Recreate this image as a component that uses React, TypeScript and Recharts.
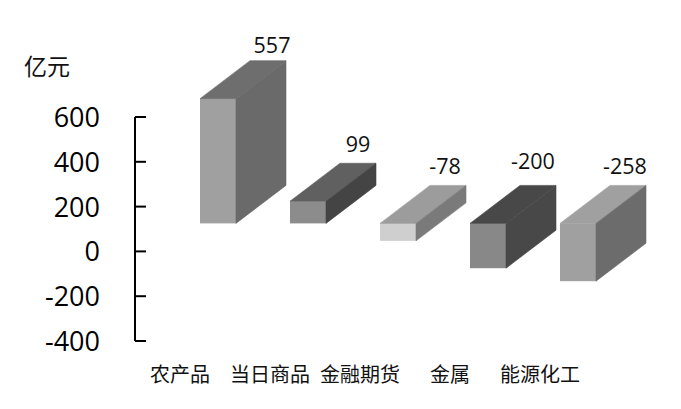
import { BarChart, Bar, XAxis, YAxis } from 'recharts';

const categories = ['农产品', '当日商品', '金融期货', '金属', '能源化工'];
const values = [557, 99, -78, -200, -258];
const yTicks = [-400, -200, 0, 200, 400, 600];

// greys for each box
const frontColors = ['#a0a0a0', '#8c8c8c', '#cfcfcf', '#888888', '#a0a0a0'];
const sideColors = ['#6a6a6a', '#444444', '#7a7a7a', '#484848', '#6c6c6c'];
const topColors = ['#6e6e6e', '#606060', '#9c9c9c', '#484848', '#a0a0a0'];

const data = categories.map((name, i) => ({ name, value: values[i] }));

// the fake 3D: front face sits off the axis position, depth goes up and right
const shiftX = 38;
const shiftY = -28;
const depthX = 50;
const depthY = -38;

// label position relative to the box's front-left corner / back top edge
const labelDx = [72, 68, 65, 63, 65];
const labelDy = [-8, -11, -11, -16, -11];

const Box = (props: any) => {
  const { x, y, width, height, index, payload } = props;
  const x0 = x + shiftX;
  const x1 = x0 + width;
  const top = Math.min(y, y + height) + shiftY;
  const bottom = Math.max(y, y + height) + shiftY;
  const sidePts = `${x1},${top} ${x1 + depthX},${top + depthY} ${x1 + depthX},${bottom + depthY} ${x1},${bottom}`;
  const topPts = `${x0},${top} ${x0 + depthX},${top + depthY} ${x1 + depthX},${top + depthY} ${x1},${top}`;
  return (
    <g>
      <rect x={x0} y={top} width={width} height={bottom - top} fill={frontColors[index]} />
      <polygon points={topPts} fill={topColors[index]} stroke={topColors[index]} strokeWidth={0.6} />
      <polygon points={sidePts} fill={sideColors[index]} stroke={sideColors[index]} strokeWidth={0.6} />
      <text
        x={x0 + labelDx[index]}
        y={top + depthY + labelDy[index]}
        textAnchor="middle"
        fontFamily="'Open Sans'"
        fontSize={21.5}
        fill="#111"
      >
        {payload.value}
      </text>
    </g>
  );
};

const YTick = ({ x, y, payload }: any) => (
  <g>
    <line x1={x} x2={x + 11} y1={y} y2={y} stroke="#000" strokeWidth={2} />
    <text x={x - 35} y={y + 10} textAnchor="end" fontFamily="'Open Sans'" fontSize={27} fill="#000">
      {payload.value}
    </text>
  </g>
);

export default function App() {
  return (
    <div style={{ position: 'absolute', left: 0, top: 0, width: 681, height: 409, background: '#fff' }}>
      <div
        style={{
          position: 'absolute',
          left: 24,
          top: 50,
          fontFamily: "'Noto Sans CJK SC'",
          fontSize: 23,
          lineHeight: '30px',
          color: '#111'
        }}
      >
        亿元
      </div>
      <BarChart
        width={681}
        height={409}
        data={data}
        barSize={36}
        margin={{ top: 117, right: 96, bottom: 18, left: 0 }}
      >
        <XAxis
          dataKey="name"
          axisLine={false}
          tickLine={false}
          height={50}
          tickMargin={21}
          interval={0}
          tick={{ fontFamily: "'Noto Sans CJK SC'", fontSize: 20, fill: '#111' }}
        />
        <YAxis
          width={135}
          domain={[-400, 600]}
          ticks={yTicks}
          interval={0}
          tickLine={false}
          tickSize={0}
          tickMargin={0}
          axisLine={{ stroke: '#000', strokeWidth: 2 }}
          tick={<YTick />}
        />
        <Bar dataKey="value" shape={<Box />} isAnimationActive={false} />
      </BarChart>
    </div>
  );
}
